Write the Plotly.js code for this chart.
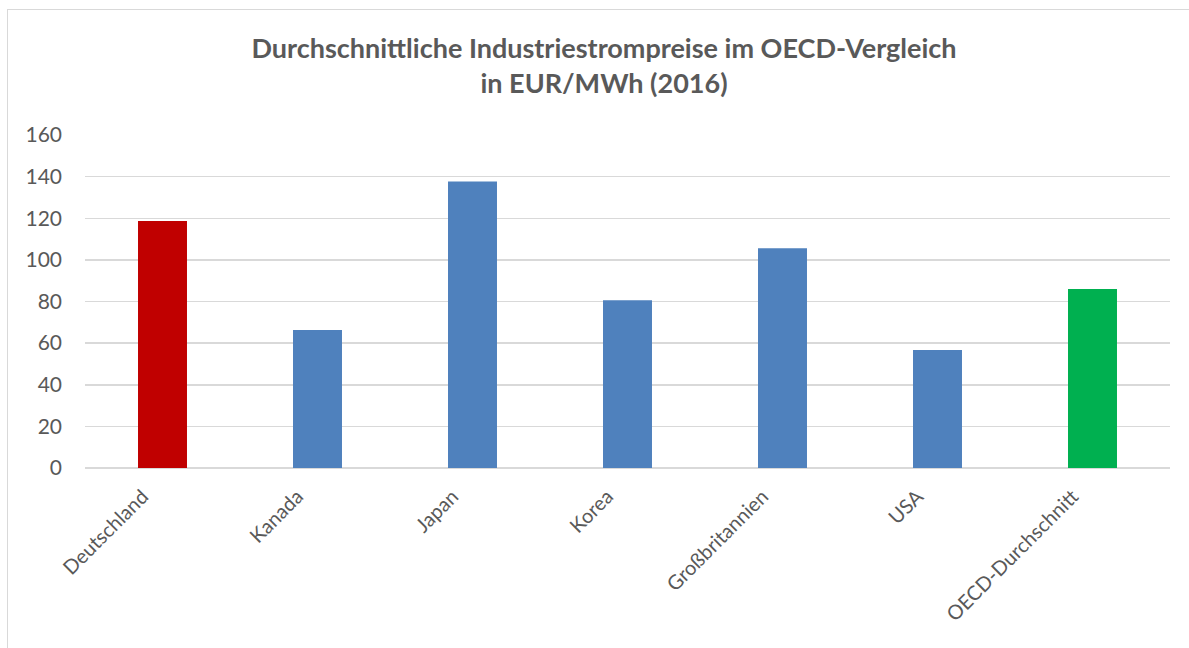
<!DOCTYPE html>
<html>
<head>
<meta charset="utf-8">
<script src="https://cdn.plot.ly/plotly-3.0.1.min.js"></script>
<style>
  html, body { margin: 0; padding: 0; background: #ffffff; }
  #frame { position: absolute; left: 7px; top: 9px; width: 1300px; height: 800px; border: 1px solid #d9d9d9; }
  #chart { position: absolute; left: 0; top: 0; width: 1189px; height: 648px; }
</style>
</head>
<body>
<div id="frame"></div>
<div id="chart"></div>
<script>
const categories = ["Deutschland", "Kanada", "Japan", "Korea", "Großbritannien", "USA", "OECD-Durchschnitt"];
const prices = [118.7, 66.3, 137.6, 80.6, 105.6, 56.7, 86.0];
const barColors = ["#C00000", "#4F81BD", "#4F81BD", "#4F81BD", "#4F81BD", "#4F81BD", "#00B050"];
const yTicks = [0, 20, 40, 60, 80, 100, 120, 140, 160];

const trace = {
  type: "bar",
  x: categories,
  y: prices,
  marker: { color: barColors, line: { width: 0 } },
  hoverinfo: "x+y"
};

const layout = {
  width: 1189,
  height: 648,
  paper_bgcolor: "rgba(0,0,0,0)",
  plot_bgcolor: "rgba(0,0,0,0)",
  margin: { l: 85, r: 19, t: 135, b: 180 },
  showlegend: false,
  bargap: 0.684,
  font: { family: "Lato, 'Open Sans', sans-serif", color: "#595959" },
  title: {
    text: "<b>Durchschnittliche Industriestrompreise im OECD-Vergleich<br>in EUR/MWh (2016)</b>",
    font: { family: "Lato, 'Open Sans', sans-serif", size: 27, color: "#595959" },
    x: 0.508,
    xanchor: "center",
    y: 0.91,
    yanchor: "middle"
  },
  xaxis: {
    type: "category",
    tickangle: -45,
    tickfont: { size: 20, color: "#595959" },
    showgrid: false,
    showline: false,
    ticks: "",
    ticklabelstandoff: 12,
    ticklabelshift: -20,
    fixedrange: true
  },
  yaxis: {
    range: [0, 160],
    tickvals: yTicks,
    ticktext: yTicks.map(String),
    tickfont: { size: 21, color: "#595959" },
    showgrid: true,
    gridcolor: "#d9d9d9",
    gridwidth: 1.5,
    zeroline: true,
    zerolinecolor: "#d9d9d9",
    zerolinewidth: 1.5,
    showline: false,
    ticks: "",
    ticklabelstandoff: 22,
    fixedrange: true
  }
};

Plotly.newPlot("chart", [trace], layout, { displayModeBar: false, staticPlot: true });
</script>
</body>
</html>
